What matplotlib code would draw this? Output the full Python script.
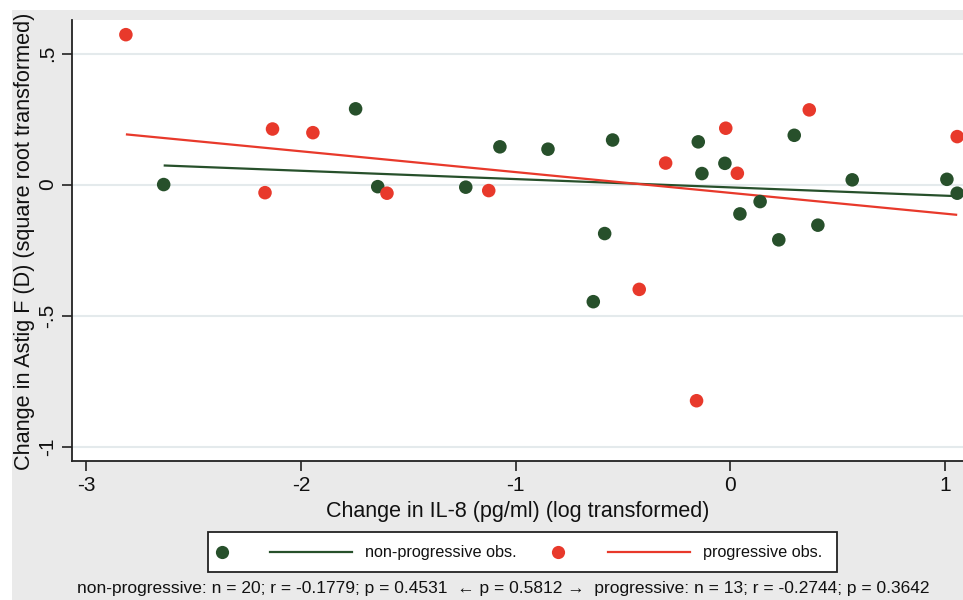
import numpy as np
import matplotlib
matplotlib.use("Agg")
import matplotlib.pyplot as plt
from matplotlib.patches import Rectangle
from matplotlib.lines import Line2D

plt.rcParams['font.family'] = ['Liberation Sans', 'DejaVu Sans']

# Data
nonprog_x = [-2.639, -1.745, -1.642, -1.232, -1.073, -0.849, -0.548, -0.585, -0.638, -0.149,
             -0.132, -0.025, 0.045, 0.139, 0.226, 0.298, 0.408, 0.568, 1.009, 1.057]
nonprog_y = [0.000, 0.289, -0.008, -0.010, 0.144, 0.135, 0.170, -0.187, -0.447, 0.163,
             0.042, 0.081, -0.112, -0.065, -0.211, 0.188, -0.155, 0.018, 0.020, -0.033]
prog_x = [-2.815, -2.132, -1.944, -2.167, -1.599, -1.125, -0.301, -0.424, -0.157, -0.021,
          0.033, 0.368, 1.057]
prog_y = [0.572, 0.212, 0.198, -0.031, -0.033, -0.023, 0.082, -0.400, -0.825, 0.215,
          0.043, 0.285, 0.183]

x_ticks = [-3, -2, -1, 0, 1]
x_ticklabels = ["-3", "-2", "-1", "0", "1"]
y_ticks = [-1, -0.5, 0, 0.5]
y_ticklabels = ["-1", "-.5", "0", ".5"]

legend_labels = ["non-progressive obs.", "progressive obs."]
footnote = ("non-progressive: n = 20; r = -0.1779; p = 0.4531  \u2190 p = 0.5812 \u2192  "
            "progressive: n = 13; r = -0.2744; p = 0.3642")

GREEN = "#27502b"
RED = "#e8392b"
BG = "#eaeaea"
GRID = "#e4eaec"

W, H = 963, 600
fig = plt.figure(figsize=(W / 100, H / 100), dpi=100)
fig.patch.set_facecolor("white")
# grey graph region (image is cropped on the right)
fig.patches.append(Rectangle((12 / W, 0), 1 - 12 / W, 1 - 10 / H, transform=fig.transFigure,
                             facecolor=BG, edgecolor="none", zorder=-5))

ax = fig.add_axes([72 / W, (H - 461) / H, (W - 72) / W, (461 - 20) / H])
ax.set_zorder(1)
ax.set_facecolor("white")
ax.set_xlim(-3.066, 1.084)
ax.set_ylim(-1.055, 0.628)

for yt in y_ticks:
    ax.axhline(yt, color=GRID, lw=1.5, zorder=1)

# fit lines
for xs, ys, col in [(nonprog_x, nonprog_y, GREEN), (prog_x, prog_y, RED)]:
    xs = np.array(xs); ys = np.array(ys)
    b, a = np.polyfit(xs, ys, 1)
    xx = np.array([xs.min(), xs.max()])
    ax.plot(xx, a + b * xx, color=col, lw=1.6, zorder=3, solid_capstyle="butt")

ax.scatter(nonprog_x, nonprog_y, s=95, color=GREEN, edgecolors="none", zorder=4)
ax.scatter(prog_x, prog_y, s=95, color=RED, edgecolors="none", zorder=4)

for s in ["top", "right"]:
    ax.spines[s].set_visible(False)
for s in ["left", "bottom"]:
    ax.spines[s].set_color("#222222")
    ax.spines[s].set_linewidth(1.3)

ax.set_xticks(x_ticks)
ax.set_xticklabels(x_ticklabels)
ax.set_yticks(y_ticks)
ax.set_yticklabels(y_ticklabels, rotation=90, va="center")
ax.tick_params(direction="out", length=7, width=1.2, color="#222222", labelsize=15, pad=4,
               labelcolor="#111111")

ax.set_xlabel("Change in IL-8 (pg/ml) (log transformed)", fontsize=15.5, color="#111111",
              labelpad=4)
fig.text(25 / W, 1 - 241 / H, "Change in Astig F (D) (square root transformed)", rotation=90,
         ha="center", va="center", fontsize=15.6, color="#111111")

# legend box
lx0, lx1, ly0, ly1 = 208, 837, 532, 572
fig.patches.append(Rectangle((lx0 / W, 1 - ly1 / H), (lx1 - lx0) / W, (ly1 - ly0) / H,
                             transform=fig.transFigure, facecolor="white", edgecolor="#222222",
                             lw=1.3, zorder=2))
ly = 1 - 552 / H
for (dotx, l0, l1, tx, col, lab) in [(222, 270, 352, 365, GREEN, legend_labels[0]),
                                     (558, 608, 690, 703, RED, legend_labels[1])]:
    fig.lines.append(Line2D([dotx / W], [ly], marker="o", markersize=9.5, color=col,
                            markeredgewidth=0, transform=fig.transFigure, zorder=3))
    fig.lines.append(Line2D([l0 / W, l1 / W], [ly, ly], color=col, lw=1.6,
                            transform=fig.transFigure, zorder=3))
    fig.text(tx / W, ly, lab, ha="left", va="center", fontsize=11.7, color="#111111", zorder=3)

fig.text(503 / W, 1 - 589 / H, footnote, ha="center", va="center", fontsize=12.5,
         color="#111111")

fig.savefig("out.png", dpi=100, facecolor=fig.get_facecolor())
